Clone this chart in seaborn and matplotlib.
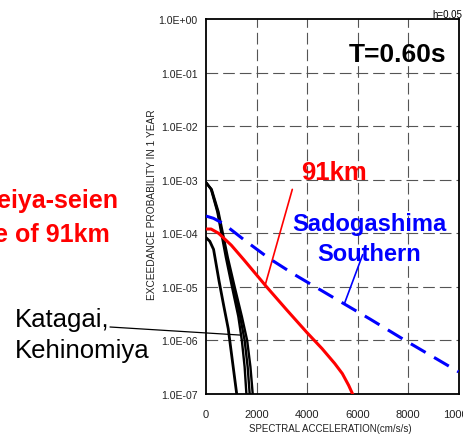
import numpy as np
import matplotlib
matplotlib.use("Agg")
import matplotlib.pyplot as plt
from matplotlib.ticker import FixedLocator, FixedFormatter
import seaborn as sns

# Spectral acceleration (cm/s/s) and annual exceedance probability per source
red_x = [0, 200, 500, 1000, 1500, 2400, 3200, 4000, 4600, 5100, 5400, 5650, 5850]
red_p = [1.2e-4, 1.2e-4, 1.0e-4, 6.0e-5, 3.2e-5, 1.0e-5, 3.7e-6, 1.4e-6,
         7.0e-7, 3.7e-7, 2.4e-7, 1.45e-7, 9.0e-8]

blue_x = [0, 300, 700, 1500, 2500, 3500, 5000, 6500, 8000, 10000]
blue_p = [2.1e-4, 1.9e-4, 1.5e-4, 7.6e-5, 3.4e-5, 1.7e-5, 6.5e-6, 2.5e-6, 9.3e-7, 2.6e-7]

black_p = [8.9e-4, 6.6e-4, 2.5e-4, 3.5e-5, 1.0e-5, 2.8e-6, 1.0e-6, 3.2e-7, 1.0e-7]
black_x1 = [0, 200, 450, 790, 1030, 1280, 1420, 1530, 1600]
black_x2 = [0, 210, 470, 825, 1080, 1350, 1530, 1650, 1730]
black_x3 = [0, 225, 495, 865, 1135, 1420, 1630, 1760, 1850]

black4_x = [0, 150, 300, 520, 700, 880, 1050, 1216]
black4_p = [8.3e-5, 7.1e-5, 5.0e-5, 1.26e-5, 4.5e-6, 1.66e-6, 4.0e-7, 1.0e-7]

x_ticks = [0, 2000, 4000, 6000, 8000, 10000]
x_tick_labels = ["0", "2000", "4000", "6000", "8000", "10000"]
y_ticks = [1e0, 1e-1, 1e-2, 1e-3, 1e-4, 1e-5, 1e-6, 1e-7]
y_tick_labels = ["1.0E+00", "1.0E-01", "1.0E-02", "1.0E-03",
                 "1.0E-04", "1.0E-05", "1.0E-06", "1.0E-07"]

sns.set_style("white")
plt.rcParams["font.family"] = ["Liberation Sans", "DejaVu Sans"]

W, H = 463, 435
fig = plt.figure(figsize=(W / 100, H / 100), dpi=100)
ax = fig.add_axes([206 / W, 1 - 395 / H, 252.5 / W, 375 / H])


def fx(px):
    return px / W


def fy(py):
    return 1 - py / H


ax.set_yscale("log")
ax.set_xlim(0, 10000)
ax.set_ylim(1e-7, 1)

# dashed grid at every labelled tick
for xv in x_ticks[1:-1]:
    ax.axvline(xv, color="#555555", lw=0.8, dashes=(10.5, 4.5), zorder=1)
for yv in y_ticks[1:-1]:
    ax.axhline(yv, color="#555555", lw=0.8, dashes=(10.5, 4.5), zorder=1)

for bx in (black_x1, black_x2, black_x3):
    sns.lineplot(x=bx, y=black_p, ax=ax, color="black", linewidth=1.7, zorder=3)
sns.lineplot(x=black4_x, y=black4_p, ax=ax, color="black", linewidth=2.0, zorder=3)
sns.lineplot(x=red_x, y=red_p, ax=ax, color="#ff0000", linewidth=2.2, zorder=4)
sns.lineplot(x=blue_x, y=blue_p, ax=ax, color="#0000ff", linewidth=2.2,
             linestyle=(0, (5.6, 3.2)), zorder=4)

ax.xaxis.set_major_locator(FixedLocator(x_ticks))
ax.xaxis.set_major_formatter(FixedFormatter(x_tick_labels))
ax.yaxis.set_major_locator(FixedLocator(y_ticks))
ax.yaxis.set_major_formatter(FixedFormatter(y_tick_labels))
ax.yaxis.set_minor_locator(FixedLocator([]))
ax.tick_params(axis="both", length=0, colors="#222222")
ax.tick_params(axis="x", pad=11, labelsize=8)
ax.tick_params(axis="y", pad=6, labelsize=7.6)

for s in ax.spines.values():
    s.set_color("black")
    s.set_linewidth(1.3)
    s.set_visible(True)

ax.set_xlabel("")
ax.set_ylabel("")
fig.text(fx(330), fy(429), "SPECTRAL ACCELERATION(cm/s/s)",
         fontsize=7, ha="center", va="center", color="#222222")
fig.text(fx(152), fy(205), "EXCEEDANCE PROBABILITY IN 1 YEAR",
         fontsize=7.3, ha="center", va="center", rotation=90, color="#222222")
fig.text(fx(432), fy(18.5), "h=0.05", fontsize=7,
         ha="left", va="baseline", color="black")

# annotations
fig.text(fx(398), fy(61.7), "T=0.60s", fontsize=19, fontweight="bold",
         ha="center", va="baseline", color="black")
fig.text(fx(334), fy(180), "91km", fontsize=18.5, fontweight="bold",
         ha="center", va="baseline", color="#ff0000")
fig.text(fx(369), fy(231), "Sadogashima", fontsize=17, fontweight="bold",
         ha="center", va="baseline", color="#0000ff")
fig.text(fx(369), fy(261), "Southern", fontsize=17, fontweight="bold",
         ha="center", va="baseline", color="#0000ff")
fig.text(fx(118), fy(208), "eiya-seien", fontsize=18, fontweight="bold",
         ha="right", va="baseline", color="#ff0000")
fig.text(fx(110), fy(241.7), "e of 91km", fontsize=18, fontweight="bold",
         ha="right", va="baseline", color="#ff0000")
fig.text(fx(15), fy(326.7), "Katagai,", fontsize=18.5, ha="left",
         va="baseline", color="black")
fig.text(fx(15), fy(358.3), "Kehinomiya", fontsize=18.5, ha="left",
         va="baseline", color="black")

ax.annotate("", xy=(1347, 1.26e-6), xycoords="data",
            xytext=(fx(110), fy(328)), textcoords="figure fraction",
            arrowprops=dict(arrowstyle="-", color="black", lw=0.9,
                            shrinkA=0, shrinkB=0), annotation_clip=False)
ax.annotate("", xy=(2337, 1.05e-5), xycoords="data",
            xytext=(3418, 6.6e-4), textcoords="data",
            arrowprops=dict(arrowstyle="-", color="#ff0000", lw=1.2,
                            shrinkA=0, shrinkB=0))
ax.annotate("", xy=(5477, 4.8e-6), xycoords="data",
            xytext=(6206, 4.0e-5), textcoords="data",
            arrowprops=dict(arrowstyle="-", color="#0000ff", lw=1.2,
                            shrinkA=0, shrinkB=0))

fig.savefig("out.png", dpi=100)
